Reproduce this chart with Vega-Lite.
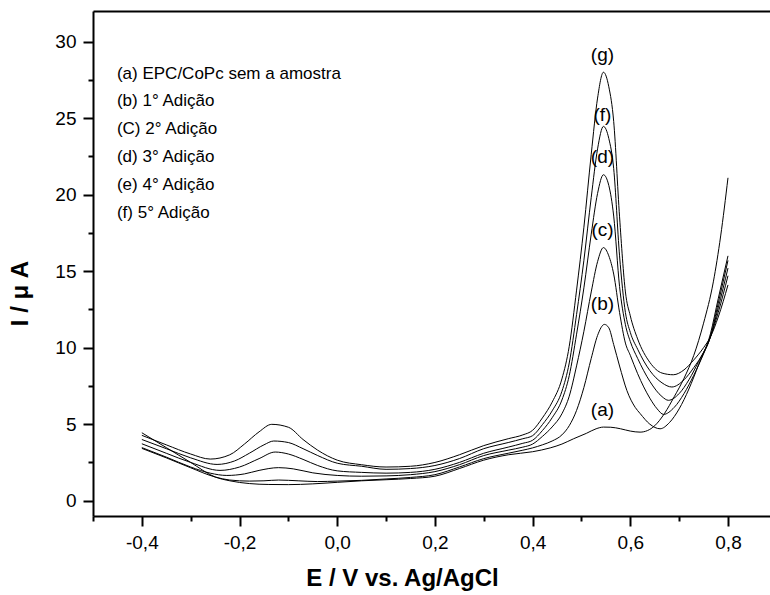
{
  "$schema": "https://vega.github.io/schema/vega-lite/v6.json",
  "width": 677,
  "height": 505,
  "autosize": {"type": "none"},
  "padding": {"left": 93, "top": 11, "right": 0, "bottom": 79},
  "background": "white",
  "config": {"view": {"stroke": null}, "font": "Liberation Sans"},
  "datasets": {
    "curves": [
      {"c":"a","E":-0.4,"I":4.44},{"c":"a","E":-0.35,"I":3.47},{"c":"a","E":-0.3,"I":2.5},{"c":"a","E":-0.25,"I":1.55},{"c":"a","E":-0.22,"I":1.3},{"c":"a","E":-0.18,"I":1.12},{"c":"a","E":-0.14,"I":1.06},{"c":"a","E":-0.1,"I":1.05},{"c":"a","E":-0.05,"I":1.1},{"c":"a","E":0.0,"I":1.2},{"c":"a","E":0.05,"I":1.3},{"c":"a","E":0.1,"I":1.37},{"c":"a","E":0.15,"I":1.45},{"c":"a","E":0.2,"I":1.6},{"c":"a","E":0.25,"I":2.1},{"c":"a","E":0.3,"I":2.65},{"c":"a","E":0.35,"I":3.0},{"c":"a","E":0.4,"I":3.2},{"c":"a","E":0.436,"I":3.45},{"c":"a","E":0.46,"I":3.7},{"c":"a","E":0.484,"I":4.05},{"c":"a","E":0.51,"I":4.4},{"c":"a","E":0.53,"I":4.7},{"c":"a","E":0.545,"I":4.81},{"c":"a","E":0.56,"I":4.8},{"c":"a","E":0.58,"I":4.7},{"c":"a","E":0.6,"I":4.55},{"c":"a","E":0.62,"I":4.48},{"c":"a","E":0.635,"I":4.58},{"c":"a","E":0.65,"I":4.9},{"c":"a","E":0.67,"I":5.7},{"c":"a","E":0.69,"I":6.8},{"c":"a","E":0.71,"I":8.0},{"c":"a","E":0.73,"I":9.5},{"c":"a","E":0.75,"I":11.6},{"c":"a","E":0.77,"I":14.3},{"c":"a","E":0.785,"I":17.3},{"c":"a","E":0.8,"I":21.1},

      {"c":"b","E":-0.4,"I":3.42},{"c":"b","E":-0.35,"I":2.8},{"c":"b","E":-0.3,"I":2.15},{"c":"b","E":-0.25,"I":1.55},{"c":"b","E":-0.22,"I":1.35},{"c":"b","E":-0.18,"I":1.28},{"c":"b","E":-0.15,"I":1.3},{"c":"b","E":-0.12,"I":1.35},{"c":"b","E":-0.08,"I":1.3},{"c":"b","E":-0.04,"I":1.25},{"c":"b","E":0.0,"I":1.28},{"c":"b","E":0.05,"I":1.33},{"c":"b","E":0.1,"I":1.42},{"c":"b","E":0.15,"I":1.52},{"c":"b","E":0.2,"I":1.7},{"c":"b","E":0.25,"I":2.2},{"c":"b","E":0.3,"I":2.75},{"c":"b","E":0.35,"I":3.1},{"c":"b","E":0.38,"I":3.3},{"c":"b","E":0.4,"I":3.45},{"c":"b","E":0.42,"I":3.65},{"c":"b","E":0.44,"I":3.9},{"c":"b","E":0.46,"I":4.3},{"c":"b","E":0.475,"I":4.9},{"c":"b","E":0.49,"I":5.9},{"c":"b","E":0.505,"I":7.4},{"c":"b","E":0.52,"I":9.3},{"c":"b","E":0.533,"I":10.8},{"c":"b","E":0.547,"I":11.52},{"c":"b","E":0.556,"I":11.3},{"c":"b","E":0.566,"I":10.2},{"c":"b","E":0.578,"I":8.8},{"c":"b","E":0.593,"I":7.2},{"c":"b","E":0.61,"I":6.1},{"c":"b","E":0.62,"I":5.7},{"c":"b","E":0.64,"I":5.0},{"c":"b","E":0.661,"I":4.7},{"c":"b","E":0.68,"I":5.1},{"c":"b","E":0.7,"I":6.0},{"c":"b","E":0.72,"I":7.3},{"c":"b","E":0.74,"I":8.9},{"c":"b","E":0.764,"I":10.9},{"c":"b","E":0.78,"I":13.2},{"c":"b","E":0.8,"I":16.0},

      {"c":"c","E":-0.4,"I":3.47},{"c":"c","E":-0.35,"I":2.85},{"c":"c","E":-0.3,"I":2.2},{"c":"c","E":-0.26,"I":1.8},{"c":"c","E":-0.226,"I":1.65},{"c":"c","E":-0.19,"I":1.75},{"c":"c","E":-0.16,"I":1.98},{"c":"c","E":-0.12,"I":2.16},{"c":"c","E":-0.09,"I":2.08},{"c":"c","E":-0.05,"I":1.82},{"c":"c","E":0.0,"I":1.65},{"c":"c","E":0.05,"I":1.6},{"c":"c","E":0.1,"I":1.62},{"c":"c","E":0.15,"I":1.7},{"c":"c","E":0.2,"I":1.9},{"c":"c","E":0.25,"I":2.35},{"c":"c","E":0.3,"I":2.95},{"c":"c","E":0.35,"I":3.3},{"c":"c","E":0.38,"I":3.5},{"c":"c","E":0.4,"I":3.7},{"c":"c","E":0.42,"I":4.2},{"c":"c","E":0.44,"I":4.82},{"c":"c","E":0.46,"I":5.68},{"c":"c","E":0.475,"I":6.83},{"c":"c","E":0.49,"I":8.81},{"c":"c","E":0.505,"I":11.07},{"c":"c","E":0.52,"I":13.64},{"c":"c","E":0.533,"I":15.62},{"c":"c","E":0.545,"I":16.54},{"c":"c","E":0.556,"I":16.0},{"c":"c","E":0.566,"I":14.81},{"c":"c","E":0.578,"I":12.3},{"c":"c","E":0.59,"I":10.3},{"c":"c","E":0.6,"I":9.5},{"c":"c","E":0.615,"I":8.3},{"c":"c","E":0.64,"I":6.7},{"c":"c","E":0.655,"I":6.0},{"c":"c","E":0.668,"I":5.64},{"c":"c","E":0.69,"I":6.1},{"c":"c","E":0.71,"I":7.0},{"c":"c","E":0.73,"I":8.2},{"c":"c","E":0.75,"I":9.6},{"c":"c","E":0.764,"I":10.7},{"c":"c","E":0.78,"I":12.9},{"c":"c","E":0.8,"I":15.7},

      {"c":"d","E":-0.4,"I":3.72},{"c":"d","E":-0.35,"I":3.1},{"c":"d","E":-0.3,"I":2.5},{"c":"d","E":-0.24,"I":1.98},{"c":"d","E":-0.2,"I":2.2},{"c":"d","E":-0.16,"I":2.75},{"c":"d","E":-0.127,"I":3.18},{"c":"d","E":-0.1,"I":3.05},{"c":"d","E":-0.07,"I":2.7},{"c":"d","E":-0.04,"I":2.3},{"c":"d","E":0.0,"I":1.95},{"c":"d","E":0.05,"I":1.85},{"c":"d","E":0.1,"I":1.8},{"c":"d","E":0.15,"I":1.85},{"c":"d","E":0.2,"I":2.05},{"c":"d","E":0.25,"I":2.5},{"c":"d","E":0.3,"I":3.1},{"c":"d","E":0.35,"I":3.5},{"c":"d","E":0.38,"I":3.75},{"c":"d","E":0.4,"I":3.95},{"c":"d","E":0.42,"I":4.58},{"c":"d","E":0.44,"I":5.42},{"c":"d","E":0.46,"I":6.58},{"c":"d","E":0.475,"I":8.17},{"c":"d","E":0.49,"I":10.88},{"c":"d","E":0.505,"I":13.91},{"c":"d","E":0.52,"I":17.42},{"c":"d","E":0.533,"I":20.08},{"c":"d","E":0.545,"I":21.3},{"c":"d","E":0.556,"I":20.6},{"c":"d","E":0.566,"I":18.6},{"c":"d","E":0.578,"I":14.0},{"c":"d","E":0.59,"I":11.5},{"c":"d","E":0.6,"I":10.4},{"c":"d","E":0.615,"I":9.3},{"c":"d","E":0.64,"I":7.8},{"c":"d","E":0.665,"I":6.8},{"c":"d","E":0.678,"I":6.56},{"c":"d","E":0.7,"I":7.0},{"c":"d","E":0.72,"I":7.9},{"c":"d","E":0.74,"I":9.1},{"c":"d","E":0.764,"I":10.7},{"c":"d","E":0.78,"I":12.6},{"c":"d","E":0.8,"I":15.2},

      {"c":"f","E":-0.4,"I":4.0},{"c":"f","E":-0.35,"I":3.4},{"c":"f","E":-0.3,"I":2.8},{"c":"f","E":-0.246,"I":2.37},{"c":"f","E":-0.21,"I":2.6},{"c":"f","E":-0.18,"I":3.1},{"c":"f","E":-0.15,"I":3.65},{"c":"f","E":-0.13,"I":3.9},{"c":"f","E":-0.1,"I":3.8},{"c":"f","E":-0.07,"I":3.4},{"c":"f","E":-0.04,"I":2.95},{"c":"f","E":0.0,"I":2.45},{"c":"f","E":0.05,"I":2.25},{"c":"f","E":0.1,"I":2.05},{"c":"f","E":0.15,"I":2.1},{"c":"f","E":0.2,"I":2.3},{"c":"f","E":0.25,"I":2.75},{"c":"f","E":0.3,"I":3.4},{"c":"f","E":0.35,"I":3.8},{"c":"f","E":0.38,"I":4.05},{"c":"f","E":0.4,"I":4.25},{"c":"f","E":0.42,"I":4.97},{"c":"f","E":0.44,"I":5.87},{"c":"f","E":0.46,"I":7.15},{"c":"f","E":0.475,"I":9.0},{"c":"f","E":0.49,"I":12.17},{"c":"f","E":0.505,"I":15.71},{"c":"f","E":0.52,"I":19.82},{"c":"f","E":0.533,"I":22.99},{"c":"f","E":0.545,"I":24.46},{"c":"f","E":0.556,"I":23.67},{"c":"f","E":0.566,"I":21.7},{"c":"f","E":0.578,"I":16.0},{"c":"f","E":0.59,"I":12.3},{"c":"f","E":0.6,"I":11.0},{"c":"f","E":0.615,"I":9.9},{"c":"f","E":0.64,"I":8.5},{"c":"f","E":0.665,"I":7.7},{"c":"f","E":0.685,"I":7.43},{"c":"f","E":0.71,"I":7.9},{"c":"f","E":0.73,"I":8.7},{"c":"f","E":0.75,"I":9.7},{"c":"f","E":0.764,"I":10.7},{"c":"f","E":0.78,"I":12.3},{"c":"f","E":0.8,"I":14.7},

      {"c":"g","E":-0.4,"I":4.27},{"c":"g","E":-0.35,"I":3.65},{"c":"g","E":-0.3,"I":3.05},{"c":"g","E":-0.26,"I":2.72},{"c":"g","E":-0.22,"I":3.0},{"c":"g","E":-0.19,"I":3.7},{"c":"g","E":-0.16,"I":4.5},{"c":"g","E":-0.134,"I":4.99},{"c":"g","E":-0.1,"I":4.8},{"c":"g","E":-0.07,"I":4.0},{"c":"g","E":-0.04,"I":3.3},{"c":"g","E":0.0,"I":2.65},{"c":"g","E":0.05,"I":2.35},{"c":"g","E":0.1,"I":2.2},{"c":"g","E":0.15,"I":2.25},{"c":"g","E":0.2,"I":2.5},{"c":"g","E":0.25,"I":3.0},{"c":"g","E":0.3,"I":3.6},{"c":"g","E":0.35,"I":4.05},{"c":"g","E":0.38,"I":4.3},{"c":"g","E":0.4,"I":4.6},{"c":"g","E":0.42,"I":5.41},{"c":"g","E":0.44,"I":6.44},{"c":"g","E":0.46,"I":7.96},{"c":"g","E":0.475,"I":10.09},{"c":"g","E":0.49,"I":13.76},{"c":"g","E":0.505,"I":17.87},{"c":"g","E":0.52,"I":22.64},{"c":"g","E":0.533,"I":26.31},{"c":"g","E":0.545,"I":28.0},{"c":"g","E":0.556,"I":27.05},{"c":"g","E":0.566,"I":24.78},{"c":"g","E":0.578,"I":18.55},{"c":"g","E":0.59,"I":13.64},{"c":"g","E":0.6,"I":12.08},{"c":"g","E":0.615,"I":10.57},{"c":"g","E":0.64,"I":9.04},{"c":"g","E":0.665,"I":8.34},{"c":"g","E":0.688,"I":8.23},{"c":"g","E":0.71,"I":8.55},{"c":"g","E":0.73,"I":9.2},{"c":"g","E":0.75,"I":10.0},{"c":"g","E":0.764,"I":10.7},{"c":"g","E":0.78,"I":12.0},{"c":"g","E":0.8,"I":14.1}
    ],
    "legend": [
      {"t":"(a) EPC/CoPc sem a amostra","x":-0.451,"y":27.86},
      {"t":"(b) 1° Adição","x":-0.451,"y":26.1},
      {"t":"(C) 2° Adição","x":-0.451,"y":24.27},
      {"t":"(d) 3° Adição","x":-0.451,"y":22.44},
      {"t":"(e) 4° Adição","x":-0.451,"y":20.61},
      {"t":"(f) 5° Adição","x":-0.451,"y":18.78}
    ],
    "peaks": [
      {"t":"(g)","x":0.543,"y":29.1},
      {"t":"(f)","x":0.543,"y":25.18},
      {"t":"(d)","x":0.543,"y":22.46},
      {"t":"(c)","x":0.543,"y":17.67},
      {"t":"(b)","x":0.543,"y":12.88},
      {"t":"(a)","x":0.543,"y":5.95}
    ]
  },
  "layer": [
    {
      "data": {"name": "curves"},
      "mark": {"type": "line", "color": "black", "strokeWidth": 1, "interpolate": "monotone"},
      "encoding": {
        "x": {
          "field": "E", "type": "quantitative",
          "scale": {"domain": [-0.5, 0.886], "nice": false, "zero": false},
          "axis": {
            "orient": "bottom", "grid": false,
            "values": [-0.4, -0.2, 0, 0.2, 0.4, 0.6, 0.8],
            "labelExpr": "replace(replace(format(datum.value, '.1f'), '.', ','), '\u2212', '-')",
            "tickSize": 10, "tickWidth": 2, "tickColor": "black",
            "domainWidth": 2, "domainColor": "black",
            "labelFontSize": 19, "labelColor": "black", "labelPadding": 7, "labelFlush": false, "labelOverlap": false,
            "title": "E / V vs. Ag/AgCl", "titleFontSize": 24, "titleFontWeight": "bold", "titleColor": "black",
            "titleX": 309, "titleY": 62, "titleAlign": "center", "titleBaseline": "middle", "titleAnchor": null
          }
        },
        "y": {
          "field": "I", "type": "quantitative",
          "scale": {"domain": [-1, 32], "nice": false, "zero": false},
          "axis": {
            "orient": "left", "grid": false,
            "values": [0, 5, 10, 15, 20, 25, 30],
            "tickSize": 10, "tickWidth": 2, "tickColor": "black",
            "domainWidth": 2, "domainColor": "black",
            "labelFontSize": 19, "labelColor": "black", "labelPadding": 7, "labelOverlap": false,
            "title": "I / μ A", "titleFontSize": 24, "titleFontWeight": "bold", "titleColor": "black",
            "titleX": -73, "titleY": 282, "titleAngle": -90, "titleAlign": "center", "titleBaseline": "middle", "titleAnchor": null
          }
        },
        "detail": {"field": "c", "type": "nominal"}
      }
    },
    {
      "data": {"name": "legend"},
      "mark": {"type": "text", "align": "left", "baseline": "middle", "fontSize": 17, "color": "black", "font": "Liberation Sans"},
      "encoding": {
        "x": {
          "field": "x", "type": "quantitative",
          "axis": {
            "orient": "bottom", "grid": false, "labels": false, "domain": false, "title": null,
            "values": [-0.5, -0.3, -0.1, 0.1, 0.3, 0.5, 0.7],
            "tickSize": 5, "tickWidth": 2, "tickColor": "black"
          }
        },
        "y": {
          "field": "y", "type": "quantitative",
          "axis": {
            "orient": "left", "grid": false, "labels": false, "domain": false, "title": null,
            "values": [2.5, 7.5, 12.5, 17.5, 22.5, 27.5],
            "tickSize": 5, "tickWidth": 2, "tickColor": "black"
          }
        },
        "text": {"field": "t", "type": "nominal"}
      }
    },
    {
      "data": {"name": "peaks"},
      "mark": {"type": "text", "align": "center", "baseline": "middle", "fontSize": 19, "color": "black", "font": "Liberation Sans"},
      "encoding": {
        "x": {
          "field": "x", "type": "quantitative",
          "axis": {"orient": "top", "grid": false, "labels": false, "ticks": false, "domain": true, "domainWidth": 2, "domainColor": "black", "title": null}
        },
        "y": {"field": "y", "type": "quantitative", "axis": null},
        "text": {"field": "t", "type": "nominal"}
      }
    }
  ],
  "resolve": {"axis": {"x": "independent", "y": "independent"}}
}
